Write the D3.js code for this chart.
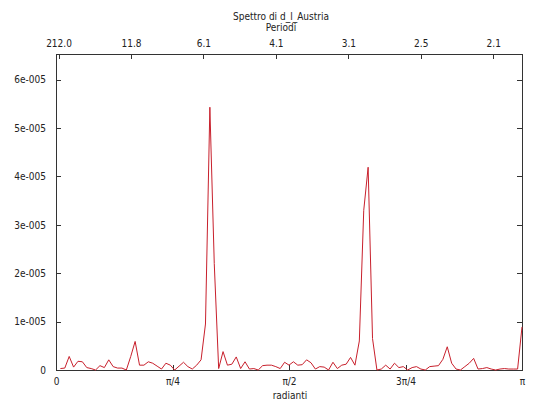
<!DOCTYPE html>
<html>
<head>
<meta charset="utf-8">
<script src="https://cdn.jsdelivr.net/npm/d3@7"></script>
<style>
  html, body { margin: 0; padding: 0; background: #fff; }
  svg text { font-family: "DejaVu Sans Condensed", "DejaVu Sans", sans-serif; font-stretch: condensed; font-size: 10px; fill: #222; }
</style>
</head>
<body>
<svg id="chart" width="540" height="405"></svg>
<script>
// Fourier frequency index j = 1..106 (T = 212); spectral density in units of 1e-5
const freqIndex = d3.range(1, 107);
const spectrum = [
  0.03, 0.04, 0.28, 0.06, 0.18, 0.17, 0.05, 0.03, 0.00, 0.09,
  0.05, 0.21, 0.07, 0.04, 0.04, 0.00, 0.28, 0.59, 0.10, 0.10,
  0.17, 0.14, 0.08, 0.02, 0.14, 0.10, 0.00, 0.08, 0.16, 0.07,
  0.02, 0.10, 0.21, 0.95, 5.43, 2.20, 0.03, 0.38, 0.10, 0.12,
  0.27, 0.03, 0.17, 0.02, 0.03, 0.00, 0.09, 0.10, 0.10, 0.07,
  0.03, 0.16, 0.10, 0.17, 0.10, 0.11, 0.21, 0.15, 0.02, 0.07,
  0.06, 0.00, 0.16, 0.03, 0.10, 0.12, 0.26, 0.10, 0.60, 3.30,
  4.19, 0.65, 0.00, 0.02, 0.10, 0.02, 0.14, 0.05, 0.07, 0.00,
  0.05, 0.07, 0.02, 0.00, 0.07, 0.08, 0.09, 0.22, 0.48, 0.14,
  0.02, 0.00, 0.07, 0.14, 0.24, 0.02, 0.03, 0.05, 0.02, 0.00,
  0.02, 0.03, 0.02, 0.02, 0.02, 0.89
];
const halfT = 106;

// bottom axis (radians)
const xTickValues = [0, Math.PI / 4, Math.PI / 2, 3 * Math.PI / 4, Math.PI];
const xTickLabels = ["0", "π/4", "π/2", "3π/4", "π"];

// left axis
const yTickValues = [0, 1, 2, 3, 4, 5, 6];
const yTickLabels = ["0", "1e-005", "2e-005", "3e-005", "4e-005", "5e-005", "6e-005"];

// top axis (periods)
const periodTickIndex = [1, 18, 35, 52, 69, 86, 103];
const periodTickLabels = ["212.0", "11.8", "6.1", "4.1", "3.1", "2.5", "2.1"];

const title = "Spettro di d_l_Austria";
const topAxisTitle = "Periodi";
const xAxisTitle = "radianti";

const W = 540, H = 405;
const margin = { left: 56, right: 18, top: 54, bottom: 35 };
const x0 = margin.left, x1 = W - margin.right;
const y0 = H - margin.bottom, y1 = margin.top;

const x = d3.scaleLinear().domain([0, Math.PI]).range([x0, x1]);
const y = d3.scaleLinear().domain([0, 6.53]).range([y0, y1]);
const x2 = d3.scaleLinear().domain([0.41, 109.75]).range([x0, x1]);

const svg = d3.select("#chart");
const axisColor = "#333";

// frame
svg.append("rect")
  .attr("x", x0).attr("y", y1)
  .attr("width", x1 - x0).attr("height", y0 - y1)
  .attr("fill", "none").attr("stroke", axisColor).attr("stroke-width", 1)
  .attr("shape-rendering", "crispEdges");

// left axis (ticks inward)
const yAxis = d3.axisLeft(y).tickValues(yTickValues)
  .tickFormat((d, i) => yTickLabels[i]).tickSizeInner(-5).tickSizeOuter(0).tickPadding(10);
const gy = svg.append("g").attr("transform", `translate(${x0},0)`).call(yAxis);
// right mirror ticks
const yAxisR = d3.axisRight(y).tickValues(yTickValues).tickFormat("").tickSizeInner(-5).tickSizeOuter(0);
const gyr = svg.append("g").attr("transform", `translate(${x1},0)`).call(yAxisR);

// bottom axis
const xAxis = d3.axisBottom(x).tickValues(xTickValues)
  .tickFormat((d, i) => xTickLabels[i]).tickSizeInner(-5).tickSizeOuter(0).tickPadding(8);
const gx = svg.append("g").attr("transform", `translate(0,${y0})`).call(xAxis);

// top axis (periods)
const x2Axis = d3.axisTop(x2).tickValues(periodTickIndex)
  .tickFormat((d, i) => periodTickLabels[i]).tickSizeInner(-5).tickSizeOuter(0).tickPadding(7);
const gx2 = svg.append("g").attr("transform", `translate(0,${y1})`).call(x2Axis);

[gy, gyr, gx, gx2].forEach(g => {
  g.select(".domain").remove();
  g.selectAll(".tick line").attr("stroke", axisColor).attr("shape-rendering", "crispEdges");
  g.selectAll("text").attr("font-family", null).attr("font-size", null).attr("fill", "#222");
});

// spectrum line
const line = d3.line()
  .x((d, i) => x(Math.PI * freqIndex[i] / halfT))
  .y(d => y(d));
svg.append("path")
  .datum(spectrum)
  .attr("fill", "none")
  .attr("stroke", "#c8202c")
  .attr("stroke-width", 1)
  .attr("stroke-linejoin", "miter")
  .attr("d", line);

// titles
svg.append("text").attr("x", 281).attr("y", 20).attr("text-anchor", "middle").text(title);
svg.append("text").attr("x", 281).attr("y", 31).attr("text-anchor", "middle").text(topAxisTitle);
svg.append("text").attr("x", 290).attr("y", 399).attr("text-anchor", "middle").text(xAxisTitle);
</script>
</body>
</html>
